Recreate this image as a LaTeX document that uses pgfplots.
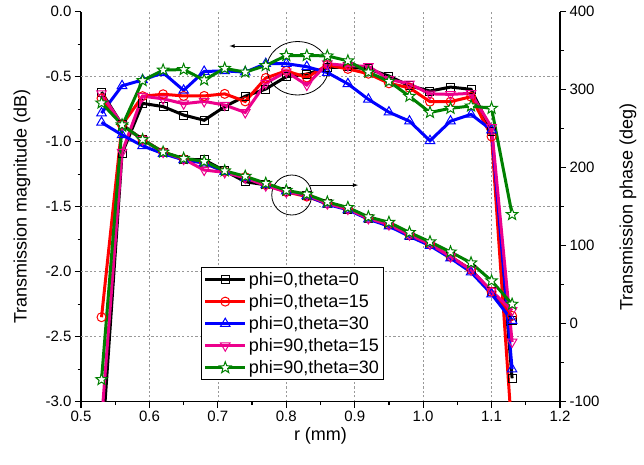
\documentclass[border=0pt]{standalone}
\usepackage{fontspec}
\setmainfont{Liberation Sans}
\usepackage{pgfplots}
\pgfplotsset{compat=1.18}
\usepackage{pgfplotstable}

\pgfdeclareplotmark{ostar}{%
  \pgfpathmoveto{\pgfpointpolar{90}{\pgfplotmarksize}}%
  \pgfpathlineto{\pgfpointpolar{126}{0.42\pgfplotmarksize}}%
  \pgfpathlineto{\pgfpointpolar{162}{\pgfplotmarksize}}%
  \pgfpathlineto{\pgfpointpolar{198}{0.42\pgfplotmarksize}}%
  \pgfpathlineto{\pgfpointpolar{234}{\pgfplotmarksize}}%
  \pgfpathlineto{\pgfpointpolar{270}{0.42\pgfplotmarksize}}%
  \pgfpathlineto{\pgfpointpolar{306}{\pgfplotmarksize}}%
  \pgfpathlineto{\pgfpointpolar{342}{0.42\pgfplotmarksize}}%
  \pgfpathlineto{\pgfpointpolar{18}{\pgfplotmarksize}}%
  \pgfpathlineto{\pgfpointpolar{54}{0.42\pgfplotmarksize}}%
  \pgfpathclose
  \pgfusepathqfillstroke}

\definecolor{cgreen}{RGB}{0,128,0}

% r  magnitude(dB)  phase(deg)
\pgfplotstableread{
r mag ph
0.53 -3.40 297
0.56 -1.09 255
0.59 -0.705 236
0.62 -0.73 220
0.65 -0.795 211
0.68 -0.835 210
0.71 -0.73 196
0.74 -0.65 182
0.77 -0.595 178
0.80 -0.50 170
0.83 -0.48 165
0.86 -0.43 154
0.89 -0.425 147
0.92 -0.44 135
0.95 -0.495 127
0.98 -0.57 113
1.01 -0.61 102
1.04 -0.58 86
1.07 -0.597 69
1.10 -0.92 41
1.13 -2.82 4
}\Tk
\pgfplotstableread{
r mag ph
0.53 -2.35 289
0.56 -0.87 255
0.59 -0.65 236
0.62 -0.635 220
0.65 -0.648 211
0.68 -0.648 206
0.71 -0.632 195
0.74 -0.69 188
0.77 -0.51 178
0.80 -0.455 169
0.83 -0.506 163
0.86 -0.41 154
0.89 -0.44 147
0.92 -0.477 135
0.95 -0.551 127
0.98 -0.585 114
1.01 -0.692 102
1.04 -0.692 86
1.07 -0.654 69
1.10 -0.96 41
1.13 -3.25 10
}\Tr
\pgfplotstableread{
r mag ph
0.53 -0.78 258
0.56 -0.57 242
0.59 -0.525 228
0.62 -0.47 218
0.65 -0.605 210
0.68 -0.46 206
0.71 -0.455 195
0.74 -0.465 187
0.77 -0.40 178
0.80 -0.40 170
0.83 -0.423 164
0.86 -0.468 153
0.89 -0.555 146
0.92 -0.674 134
0.95 -0.773 125
0.98 -0.842 112
1.01 -0.993 100
1.04 -0.842 84
1.07 -0.79 66
1.10 -0.91 38
1.13 -2.75 4
}\Tb
\pgfplotstableread{
r mag ph
0.53 -3.15 295
0.56 -1.08 255
0.59 -0.65 236
0.62 -0.67 220
0.65 -0.708 211
0.68 -0.69 197
0.71 -0.718 194
0.74 -0.775 187
0.77 -0.55 177
0.80 -0.462 169
0.83 -0.564 165
0.86 -0.40 154
0.89 -0.415 147
0.92 -0.42 135
0.95 -0.52 127
0.98 -0.555 114
1.01 -0.632 102
1.04 -0.636 86
1.07 -0.628 69
1.10 -0.89 42
1.13 -2.54 17
}\Tm
\pgfplotstableread{
r mag ph
0.53 -2.83 283
0.56 -0.88 255
0.59 -0.53 236
0.62 -0.449 220
0.65 -0.445 212
0.68 -0.525 208
0.71 -0.436 196
0.74 -0.465 189
0.77 -0.414 180
0.80 -0.337 171
0.83 -0.337 166
0.86 -0.34 156
0.89 -0.378 149
0.92 -0.465 137
0.95 -0.536 130
0.98 -0.651 117
1.01 -0.775 105
1.04 -0.743 92
1.07 -0.725 78
1.10 -0.743 55
1.13 -1.56 25
}\Tg

\pgfplotsset{
  common/.style={
    at={(0,0)}, anchor=south west, scale only axis,
    width=479pt, height=390pt,
    xmin=0.5, xmax=1.2,
    axis line style={-, line width=1.2pt, black},
    tick align=outside,
    major tick length=6pt, minor tick length=3.5pt,
    every tick/.style={black, line width=1.2pt},
    tick label style={font=\fontsize{15}{18}\selectfont},
    label style={font=\fontsize{18}{21}\selectfont},
    /pgf/number format/assume math mode=true,
  },
  sK/.style={black, line width=3pt, mark=square, mark size=4pt, mark options={fill=white, line width=1pt, solid}},
  sR/.style={red, line width=3pt, mark=o, mark size=4.5pt, mark options={fill=white, line width=1pt, solid}},
  sB/.style={blue, line width=3pt, mark=triangle, mark size=5.5pt, mark options={fill=white, line width=1pt, solid}},
  sM/.style={magenta, line width=3pt, mark=triangle, mark size=5.5pt, mark options={fill=white, line width=1pt, solid, rotate=180}},
  sG/.style={cgreen, line width=3pt, mark=ostar, mark size=6pt, mark options={fill=white, line width=1pt, solid}},
}

\begin{document}
\begin{tikzpicture}
\path[use as bounding box] (-81pt,-62.3pt) rectangle (563pt,401.7pt);
\begin{axis}[common,
  ymin=-3, ymax=0,
  axis x line*=bottom, axis y line*=left,
  xtick={0.5,0.6,...,1.21}, minor x tick num=1,
  ytick={-3,-2.5,...,0.01}, minor y tick num=1,
  xticklabel style={/pgf/number format/.cd, fixed, fixed zerofill, precision=1},
  yticklabel style={/pgf/number format/.cd, fixed, fixed zerofill, precision=1},
  xmajorgrids=true, ymajorgrids=false,
  extra y ticks={-2.5,-2,-1.5,-1,-0.5}, extra y tick labels={},
  extra y tick style={grid=major},
  major grid style={dash pattern=on 2.2pt off 2.2pt, gray!80, line width=0.6pt},
  xlabel={r (mm)},
  ylabel={Transmission magnitude (dB)},
  xlabel style={at={(axis description cs:0.5,-0.088)}, anchor=center},
  ylabel style={at={(axis description cs:-0.123,0.5)}, anchor=center},
  legend style={at={(0.25,0.0556)}, anchor=south west, draw=black, line width=1pt,
    fill=white, font=\fontsize{18}{21}\selectfont, row sep=3.5pt, inner sep=2.5pt,
    cells={anchor=west}},
  legend image code/.code={\draw[mark repeat=2, mark phase=2, #1] plot coordinates {(0pt,0pt) (20pt,0pt) (40pt,0pt)};},
]
\addplot[sK] table[x=r, y=mag]{\Tk};
\addlegendentry{phi=0,theta=0}
\addplot[sR] table[x=r, y=mag]{\Tr};
\addlegendentry{phi=0,theta=15}
\addplot[sB] table[x=r, y=mag]{\Tb};
\addlegendentry{phi=0,theta=30}
\addplot[sM] table[x=r, y=mag]{\Tm};
\addlegendentry{phi=90,theta=15}
\addplot[sG] table[x=r, y=mag]{\Tg};
\addlegendentry{phi=90,theta=30}
\draw[line width=0.8pt] (axis cs:0.8165,-0.435) ellipse [x radius=30.8pt, y radius=26.7pt];
\draw[line width=0.8pt, -latex] (axis cs:0.778,-0.264) -- (axis cs:0.717,-0.264);
\draw[line width=0.8pt] (axis cs:0.808,-1.41) circle [radius=20pt];
\draw[line width=0.8pt, -latex] (axis cs:0.834,-1.334) -- (axis cs:0.905,-1.334);
\end{axis}
\begin{axis}[common,
  ymin=-100, ymax=400,
  axis x line=none, axis y line*=right,
  ytick={-100,0,...,400}, minor y tick num=1,
  ylabel={Transmission phase (deg)},
  ylabel style={at={(axis description cs:1.142,0.5)}, anchor=center},
]
\addplot[sK] table[x=r, y=ph]{\Tk};
\addplot[sR] table[x=r, y=ph]{\Tr};
\addplot[sB] table[x=r, y=ph]{\Tb};
\addplot[sM] table[x=r, y=ph]{\Tm};
\addplot[sG] table[x=r, y=ph]{\Tg};
\end{axis}
\end{tikzpicture}
\end{document}
